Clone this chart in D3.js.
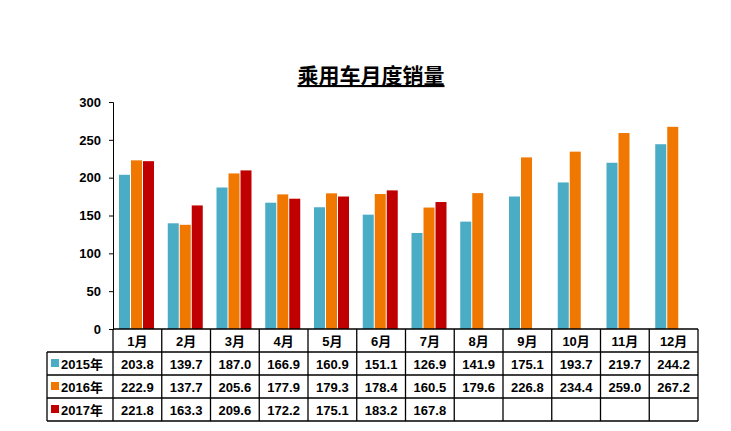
<!DOCTYPE html><html><head><meta charset="utf-8"><script src="https://d3js.org/d3.v7.min.js"></script>
<style>body{margin:0;background:#fff}</style></head><body><svg id="c" width="731" height="431"></svg>
<script>
const months=["1月","2月","3月","4月","5月","6月","7月","8月","9月","10月","11月","12月"];
const seriesNames=["2015年","2016年","2017年"];
const s2015=[203.8,139.7,187.0,166.9,160.9,151.1,126.9,141.9,175.1,193.7,219.7,244.2];
const s2016=[222.9,137.7,205.6,177.9,179.3,178.4,160.5,179.6,226.8,234.4,259.0,267.2];
const s2017=[221.8,163.3,209.6,172.2,175.1,183.2,167.8];
const yTicks=[0,50,100,150,200,250,300];
const colors=["#4BACC6","#F07800","#C00000"];
const data=[s2015,s2016,s2017];
const svg=d3.select("#c");
const font="Arial, 'Liberation Sans', 'Noto Sans CJK SC', sans-serif";
const L=113,R=698,T=102,B=329;
const x=d3.scaleBand().domain(months).range([L,R]);
const y=d3.scaleLinear().domain([0,300]).range([B,T]);
svg.append("text").attr("x",371).attr("y",83).attr("text-anchor","middle").attr("font-family",font).attr("font-weight","bold").attr("font-size",21).attr("text-decoration","underline").text("乘用车月度销量");
const ya=svg.append("g").attr("transform",`translate(${L},0)`).call(d3.axisLeft(y).tickValues(yTicks).tickSize(4).tickPadding(8));
ya.select(".domain").attr("stroke","#000");
ya.selectAll("text").attr("font-family",font).attr("font-weight","bold").attr("font-size",13).attr("fill","#000");
const bw=11;
data.forEach((s,i)=>{
 svg.append("g").selectAll("rect").data(s).join("rect")
  .attr("x",(d,j)=>x(months[j])+6+i*12).attr("width",bw)
  .attr("y",d=>y(d)).attr("height",d=>B-y(d)).attr("fill",colors[i]);
});
// table
const g=svg.append("g").attr("stroke","#000").attr("stroke-width",1.3);
const rowY=[B,352,375,398,421];
const tL=47;
g.append("line").attr("x1",L).attr("x2",R).attr("y1",B).attr("y2",B);
g.append("line").attr("x1",tL).attr("x2",R).attr("y1",352).attr("y2",352);
[375,398,421].forEach(v=>g.append("line").attr("x1",tL).attr("x2",R).attr("y1",v).attr("y2",v));
g.append("line").attr("x1",tL).attr("x2",tL).attr("y1",352).attr("y2",421);
months.forEach(m=>g.append("line").attr("x1",x(m)).attr("x2",x(m)).attr("y1",B).attr("y2",421));
g.append("line").attr("x1",R).attr("x2",R).attr("y1",B).attr("y2",421);
const tf=t=>t.attr("font-family",font).attr("font-weight","bold").attr("font-size",13).attr("fill","#000");
svg.append("g").selectAll("text").data(months).join("text").attr("x",d=>x(d)+x.bandwidth()/2).attr("y",346).attr("text-anchor","middle").text(d=>d).call(tf);
data.forEach((s,i)=>{
 const cy=rowY[i+1]+17;
 svg.append("g").selectAll("text").data(s).join("text").attr("x",(d,j)=>x(months[j])+x.bandwidth()/2).attr("y",cy).attr("text-anchor","middle").text(d=>d.toFixed(1)).call(tf);
 svg.append("rect").attr("x",51).attr("y",cy-10).attr("width",8).attr("height",8).attr("fill",colors[i]);
 svg.append("text").attr("x",61).attr("y",cy).text(seriesNames[i]).call(tf);
});
</script></body></html>
